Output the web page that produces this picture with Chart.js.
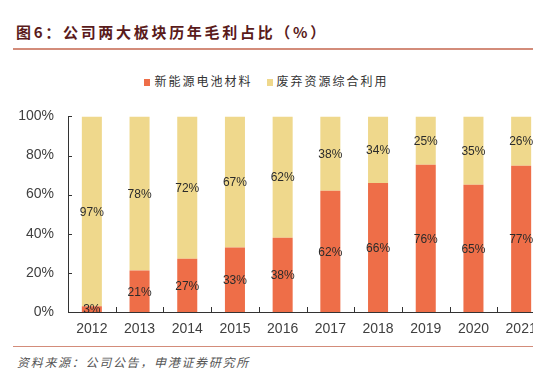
<!DOCTYPE html>
<html>
<head>
<meta charset="utf-8">
<script src="https://cdn.jsdelivr.net/npm/chart.js@4/dist/chart.umd.min.js"></script>
<style>
  html, body { margin: 0; padding: 0; background: #fff; width: 554px; height: 383px; overflow: hidden; }
  #title { position: absolute; left: 16px; top: 22px; font-family: "Noto Sans CJK SC", sans-serif; font-weight: bold; font-size: 15px; letter-spacing: 2.7px; color: #5a1b1b; white-space: nowrap; line-height: 20px; }
  #rule1 { position: absolute; left: 13px; top: 48px; width: 520px; height: 2px; background: #d38c7a; }
  #legend { position: absolute; left: 0; width: 533px; top: 72px; text-align: center; font-family: "Noto Sans CJK SC", sans-serif; font-size: 12px; letter-spacing: 2px; color: #333; white-space: nowrap; line-height: 18px; }
  #legend span.item { display: inline-block; margin: 0 7px; }
  #legend span.box { display: inline-block; width: 6px; height: 7px; margin-right: 4px; vertical-align: 0px; }
  #wrap { position: absolute; left: 0; top: 94px; width: 533px; height: 246px; overflow: hidden; }
  #cwrap { position: absolute; left: 0; top: 0; width: 548px; height: 246px; }
  #rule2 { position: absolute; left: 13px; top: 346px; width: 520px; height: 1px; background: #d38c7a; }
  #source { position: absolute; left: 17px; top: 353px; font-family: "Noto Sans CJK SC", sans-serif; font-style: italic; font-size: 12px; letter-spacing: 1.7px; color: #555; white-space: nowrap; line-height: 18px; }
</style>
</head>
<body>
<div id="title">图6：公司两大板块历年毛利占比（%）</div>
<div id="rule1"></div>
<div id="legend"></div>
<div id="wrap"><div id="cwrap"><canvas id="c"></canvas></div></div>
<div id="rule2"></div>
<div id="source">资料来源：公司公告，申港证券研究所</div>
<script>
// ---- data ----
const categories = ['2012','2013','2014','2015','2016','2017','2018','2019','2020','2021'];
const seriesNames = ['新能源电池材料', '废弃资源综合利用'];
const batteryMaterials = [3, 21, 27, 33, 38, 62, 66, 76, 65, 77];
const wasteRecycling   = [97, 78, 72, 67, 62, 38, 34, 25, 35, 26];
const yTickValues = [0, 20, 40, 60, 80, 100];
const seriesColors = ['#ee6e48', '#efd88c'];

// 100% stacked: normalise each year by its total
const totals = batteryMaterials.map((v, i) => v + wasteRecycling[i]);
const rawSeries = [batteryMaterials, wasteRecycling];
const normSeries = rawSeries.map(s => s.map((v, i) => v / totals[i] * 100));

// legend (HTML, from series names)
const lg = document.getElementById('legend');
seriesNames.forEach((n, i) => {
  const it = document.createElement('span'); it.className = 'item';
  const b = document.createElement('span'); b.className = 'box'; b.style.background = seriesColors[i];
  it.appendChild(b); it.appendChild(document.createTextNode(n));
  lg.appendChild(it);
});

const AXIS_COLOR = '#333';

const tickPlugin = {
  id: 'innerTicks',
  afterDraw(chart) {
    const ctx = chart.ctx, ca = chart.chartArea;
    const x = chart.scales.x, y = chart.scales.y;
    ctx.save();
    ctx.strokeStyle = AXIS_COLOR; ctx.lineWidth = 1;
    ctx.beginPath();
    yTickValues.forEach(v => {
      const py = Math.round(y.getPixelForValue(v)) + 0.5;
      ctx.moveTo(ca.left, py); ctx.lineTo(ca.left + 4, py);
    });
    for (let i = 1; i < categories.length; i++) {
      const px = Math.round((x.getPixelForValue(i - 1) + x.getPixelForValue(i)) / 2) + 0.5;
      ctx.moveTo(px, ca.bottom); ctx.lineTo(px, ca.bottom - 5);
    }
    ctx.stroke();
    ctx.restore();
  }
};

const labelPlugin = {
  id: 'segLabels',
  afterDatasetsDraw(chart) {
    const ctx = chart.ctx;
    ctx.save();
    ctx.font = '12px "Liberation Sans", Arial, sans-serif';
    ctx.fillStyle = '#2b2b2b';
    ctx.textAlign = 'center';
    ctx.textBaseline = 'middle';
    chart.data.datasets.forEach((ds, di) => {
      const meta = chart.getDatasetMeta(di);
      meta.data.forEach((el, i) => {
        const p = el.getProps(['x', 'y', 'base'], true);
        ctx.fillText(rawSeries[di][i] + '%', p.x, (p.y + p.base) / 2 + 1);
      });
    });
    ctx.restore();
  }
};

new Chart(document.getElementById('c'), {
  type: 'bar',
  data: {
    labels: categories,
    datasets: seriesNames.map((n, i) => ({
      label: n,
      data: normSeries[i],
      backgroundColor: seriesColors[i],
      borderWidth: 0,
      categoryPercentage: 1,
      barPercentage: 0.42
    }))
  },
  options: {
    responsive: true,
    maintainAspectRatio: false,
    animation: false,
    layout: { padding: { top: 10, right: 3, left: 0, bottom: 0 } },
    plugins: { legend: { display: false }, tooltip: { enabled: false } },
    scales: {
      x: {
        stacked: true,
        grid: { display: false, drawTicks: false },
        border: { display: true, color: AXIS_COLOR, width: 1 },
        ticks: { color: '#404040', font: { family: '"Liberation Sans", Arial, sans-serif', size: 14 }, padding: 9, maxRotation: 0, autoSkip: false },
        afterFit(s) { s.height = 28; }
      },
      y: {
        stacked: true,
        min: 0, max: 100,
        afterBuildTicks(s) { s.ticks = yTickValues.map(v => ({ value: v })); },
        grid: { display: false, drawTicks: false },
        border: { display: true, color: AXIS_COLOR, width: 1 },
        ticks: { color: '#404040', font: { family: '"Liberation Sans", Arial, sans-serif', size: 14 }, padding: 14, callback: v => v + '%' },
        afterFit(s) { s.width = 68; }
      }
    }
  },
  plugins: [tickPlugin, labelPlugin]
});
</script>
</body>
</html>
